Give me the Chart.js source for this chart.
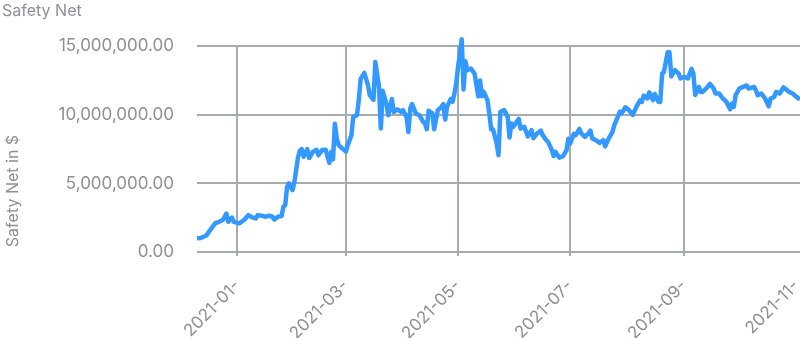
<!DOCTYPE html>
<html>
<head>
<meta charset="utf-8">
<style>
  html, body { margin: 0; padding: 0; background: #ffffff; }
  canvas { display: block; }
</style>
<script src="https://cdn.jsdelivr.net/npm/chart.js@4.4.1/dist/chart.umd.min.js"></script>
</head>
<body>
<canvas id="chart" width="800" height="338"></canvas>
<script>
// ---- Data ----
const chartTitle = 'Safety Net';
const yAxisTitle = 'Safety Net in $';

const dates = [
  '2020-12-10','2020-12-12','2020-12-15','2020-12-16','2020-12-18','2020-12-20','2020-12-22','2020-12-24',
  '2020-12-26','2020-12-27','2020-12-29','2020-12-30','2021-01-02','2021-01-04','2021-01-05','2021-01-07',
  '2021-01-09','2021-01-11','2021-01-12','2021-01-15','2021-01-16','2021-01-18','2021-01-20','2021-01-21',
  '2021-01-23','2021-01-25','2021-01-26','2021-01-27','2021-01-28','2021-01-29','2021-01-31','2021-02-01',
  '2021-02-03','2021-02-04','2021-02-05','2021-02-06','2021-02-08','2021-02-09','2021-02-11','2021-02-13',
  '2021-02-14','2021-02-16','2021-02-18','2021-02-20','2021-02-21','2021-02-22','2021-02-23','2021-02-24',
  '2021-02-25','2021-02-27','2021-03-01','2021-03-02','2021-03-04','2021-03-05','2021-03-07','2021-03-08',
  '2021-03-09','2021-03-11','2021-03-13','2021-03-14','2021-03-16','2021-03-17','2021-03-19','2021-03-20',
  '2021-03-21','2021-03-23','2021-03-24','2021-03-26','2021-03-27','2021-03-29','2021-03-31','2021-04-01',
  '2021-04-03','2021-04-04','2021-04-05','2021-04-06','2021-04-08','2021-04-10','2021-04-12','2021-04-13',
  '2021-04-14','2021-04-15','2021-04-17','2021-04-18','2021-04-20','2021-04-22','2021-04-23','2021-04-24',
  '2021-04-25','2021-04-27','2021-04-28','2021-04-29','2021-04-30','2021-05-01','2021-05-02','2021-05-03',
  '2021-05-04','2021-05-05','2021-05-06','2021-05-08','2021-05-10','2021-05-12','2021-05-13','2021-05-14',
  '2021-05-15','2021-05-17','2021-05-18','2021-05-19','2021-05-20','2021-05-22','2021-05-23','2021-05-24',
  '2021-05-26','2021-05-28','2021-05-29','2021-05-30','2021-05-31','2021-06-03','2021-06-04','2021-06-06',
  '2021-06-08','2021-06-10','2021-06-11','2021-06-13','2021-06-15','2021-06-16','2021-06-18','2021-06-19',
  '2021-06-21','2021-06-22','2021-06-23','2021-06-25','2021-06-27','2021-06-29','2021-06-30','2021-07-01',
  '2021-07-03','2021-07-04','2021-07-06','2021-07-07','2021-07-09','2021-07-11','2021-07-12','2021-07-13',
  '2021-07-15','2021-07-17','2021-07-19','2021-07-20','2021-07-22','2021-07-24','2021-07-25','2021-07-28',
  '2021-07-29','2021-07-31','2021-08-02','2021-08-04','2021-08-06','2021-08-08','2021-08-09','2021-08-10',
  '2021-08-12','2021-08-13','2021-08-15','2021-08-16','2021-08-18','2021-08-19','2021-08-20','2021-08-21',
  '2021-08-23','2021-08-24','2021-08-25','2021-08-27','2021-08-29','2021-08-30','2021-09-01','2021-09-03',
  '2021-09-05','2021-09-06','2021-09-07','2021-09-09','2021-09-10','2021-09-11','2021-09-13','2021-09-15',
  '2021-09-17','2021-09-18','2021-09-20','2021-09-22','2021-09-24','2021-09-26','2021-09-27','2021-09-28',
  '2021-09-29','2021-10-01','2021-10-03','2021-10-05','2021-10-06','2021-10-09','2021-10-10','2021-10-11',
  '2021-10-13','2021-10-15','2021-10-17','2021-10-18','2021-10-20','2021-10-21','2021-10-23','2021-10-25',
  '2021-10-27','2021-10-28','2021-10-30','2021-11-01','2021-11-03'
];

// Safety net, in millions of dollars
const safetyNetMillions = [
  1.00, 1.02, 1.20, 1.38, 1.75, 2.10, 2.20, 2.33,
  2.80, 2.20, 2.50, 2.20, 2.09, 2.28, 2.38, 2.69,
  2.52, 2.45, 2.69, 2.62, 2.57, 2.64, 2.57, 2.36,
  2.57, 2.62, 3.30, 3.42, 4.75, 5.00, 4.51, 5.12,
  6.94, 7.40, 7.50, 6.94, 7.50, 6.85, 7.30, 7.45,
  7.06, 7.43, 7.45, 6.50, 7.30, 6.75, 9.35, 8.28,
  7.79, 7.55, 7.32, 7.79, 8.52, 9.85, 9.97, 11.07,
  12.60, 13.05, 12.16, 11.43, 11.10, 13.85, 12.03, 9.00,
  11.75, 10.82, 9.97, 11.15, 10.21, 10.39, 10.21, 10.34,
  9.85, 8.75, 10.46, 10.78, 10.10, 9.97, 9.49, 9.37,
  8.95, 10.30, 10.10, 8.95, 10.34, 10.58, 10.78, 9.65,
  10.58, 11.15, 10.94, 11.55, 12.28, 13.49, 14.40, 15.50,
  11.85, 13.90, 13.25, 13.37, 13.00, 11.35, 12.50, 11.35,
  11.67, 11.07, 10.10, 8.95, 8.95, 7.91, 7.05, 10.21,
  10.35, 9.85, 8.35, 9.37, 9.12, 9.70, 9.00, 9.12,
  8.42, 8.88, 8.30, 8.64, 8.85, 8.52, 8.15, 8.03,
  7.43, 7.00, 7.30, 6.88, 6.97, 7.43, 8.25, 7.91,
  8.62, 8.52, 8.97, 8.64, 8.39, 8.64, 8.85, 8.28,
  8.15, 7.95, 8.15, 7.70, 8.28, 8.76, 9.25, 10.21,
  10.10, 10.55, 10.34, 9.99, 10.58, 11.05, 10.94, 11.40,
  11.19, 11.64, 11.07, 11.52, 10.94, 10.94, 13.00, 13.13,
  14.55, 14.55, 12.80, 13.25, 13.00, 12.65, 12.77, 12.65,
  13.35, 13.00, 11.45, 12.03, 11.67, 11.67, 11.92, 12.25,
  11.92, 11.55, 11.55, 11.19, 10.94, 10.40, 10.82, 10.58,
  11.43, 11.92, 12.03, 12.14, 11.92, 12.03, 11.79, 11.43,
  11.55, 11.19, 10.62, 11.19, 11.31, 11.67, 11.55, 12.00,
  11.79, 11.67, 11.55, 11.31, 11.12
];

const xTickDates = ['2021-01-01','2021-03-01','2021-05-01','2021-07-01','2021-09-01','2021-11-01'];
const xTickLabels = ['2021-01-','2021-03-','2021-05-','2021-07-','2021-09-','2021-11-'];
const yTickValues = [0, 5000000, 10000000, 15000000];

// ---- Styling ----
const lineColor = '#3399ff';
const gridColor = '#a6aab1';
const textColor = '#8b9098';
const fontFamily = 'Inter, "Noto Sans", sans-serif';

const toMs = s => Date.parse(s + 'T00:00:00Z');

const points = dates.map((d, i) => ({ x: toMs(d), y: safetyNetMillions[i] * 1e6 }));

const yTitlePlugin = {
  id: 'yTitlePlugin',
  afterDraw(chart) {
    const c = chart.ctx;
    c.save();
    c.translate(13, 191);
    c.rotate(-Math.PI / 2);
    c.font = '16px ' + fontFamily;
    c.fillStyle = textColor;
    c.textAlign = 'center';
    c.textBaseline = 'middle';
    c.fillText(yAxisTitle, 0, 0);
    c.restore();
  }
};

new Chart(document.getElementById('chart'), {
  type: 'line',
  data: {
    datasets: [{
      label: chartTitle,
      data: points,
      borderColor: lineColor,
      backgroundColor: lineColor,
      borderWidth: 4.5,
      pointRadius: 0,
      tension: 0,
      fill: false,
      clip: false,
      borderJoinStyle: 'round'
    }]
  },
  options: {
    responsive: false,
    animation: false,
    layout: { padding: { left: 2, right: 0, top: 0, bottom: 0 } },
    plugins: {
      legend: { display: false },
      tooltip: { enabled: false },
      title: {
        display: true,
        text: chartTitle,
        align: 'start',
        color: textColor,
        font: { family: fontFamily, size: 16, weight: 'normal' },
        padding: { top: 2, bottom: 25 }
      }
    },
    scales: {
      x: {
        type: 'linear',
        min: toMs(dates[0]),
        max: toMs(dates[dates.length - 1]),
        afterBuildTicks: s => { s.ticks = xTickDates.map(d => ({ value: toMs(d) })); },
        afterFit: s => { s.height = 86; s.paddingLeft = 0; s.paddingRight = 0; },
        ticks: {
          autoSkip: false,
          minRotation: 45,
          maxRotation: 45,
          padding: 20,
          color: textColor,
          font: { family: fontFamily, size: 17 },
          callback: (v, i) => xTickLabels[i]
        },
        grid: {
          color: ctx => (ctx.index === xTickDates.length - 1 ? 'rgba(0,0,0,0)' : gridColor),
          lineWidth: 2,
          drawTicks: true,
          tickLength: 4
        },
        border: { display: false }
      },
      y: {
        min: 0,
        max: 15000000,
        afterBuildTicks: s => { s.ticks = yTickValues.map(v => ({ value: v })); },
        afterFit: s => { s.width = 195; },
        ticks: {
          padding: 23,
          color: textColor,
          font: { family: fontFamily, size: 17 },
          callback: v => Number(v).toLocaleString('en-US', { minimumFractionDigits: 2, maximumFractionDigits: 2 })
        },
        grid: { color: gridColor, lineWidth: 2, drawTicks: false },
        border: { display: false }
      }
    }
  },
  plugins: [yTitlePlugin]
});
</script>
</body>
</html>
